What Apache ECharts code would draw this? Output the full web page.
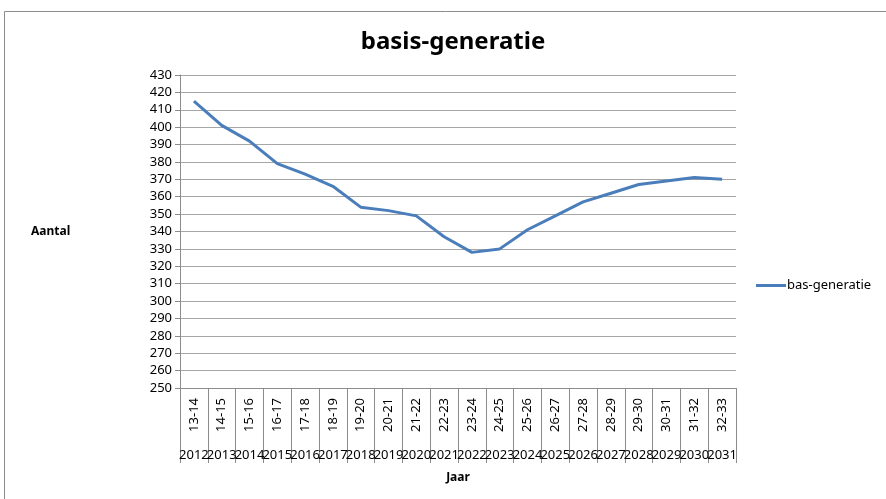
<!DOCTYPE html>
<html>
<head>
<meta charset="utf-8">
<script src="https://cdn.jsdelivr.net/npm/echarts@6/dist/echarts.min.js"></script>
<style>
  html, body { margin: 0; padding: 0; background: #fff; }
  #chart { width: 886px; height: 499px; }
</style>
</head>
<body>
<div id="chart"></div>
<script>
// schooljaren (as 1) en jaren (as 2)
const schoolYears = ["13-14", "14-15", "15-16", "16-17", "17-18", "18-19", "19-20", "20-21", "21-22", "22-23",
  "23-24", "24-25", "25-26", "26-27", "27-28", "28-29", "29-30", "30-31", "31-32", "32-33"];
const years = ["2012", "2013", "2014", "2015", "2016", "2017", "2018", "2019", "2020", "2021",
  "2022", "2023", "2024", "2025", "2026", "2027", "2028", "2029", "2030", "2031"];
// aantallen
const basGeneratie = [415, 401, 392, 379, 373, 366, 354, 352, 349, 337,
  328, 330, 341, 349, 357, 362, 367, 369, 371, 370];

const chart = echarts.init(document.getElementById("chart"));
const font = "'Noto Sans', sans-serif";

const option = {
  animation: false,
  textStyle: { fontFamily: font },
  title: {
    text: "basis-generatie",
    left: 448,
    top: 25,
    textAlign: "center",
    textStyle: { fontSize: 24, fontWeight: "bold", color: "#000", fontFamily: font }
  },
  legend: {
    left: 751,
    top: 274,
    itemWidth: 30,
    itemHeight: 3,
    itemGap: 2,
    icon: "rect",
    textStyle: { fontSize: 13, color: "#000", padding: [0, 0, 0, -4] },
    data: ["bas-generatie"]
  },
  graphic: [
    {
      type: "rect",
      shape: { x: 4.5, y: 11.5, width: 900, height: 500 },
      style: { fill: "none", stroke: "#8c8c8c", lineWidth: 1 }
    },
    {
      type: "text",
      left: 31,
      top: 226,
      style: { text: "Aantal", font: "bold 12px " + font, fill: "#000" }
    }
  ],
  grid: { left: 180, right: 150, top: 75, bottom: 111 },
  xAxis: [
    {
      type: "category",
      data: schoolYears,
      boundaryGap: true,
      name: "Jaar",
      nameLocation: "middle",
      nameGap: 84,
      nameTextStyle: { fontSize: 12, fontWeight: "bold", color: "#000" },
      axisLine: { lineStyle: { color: "#8c8c8c" } },
      axisTick: { show: true, length: 75, alignWithLabel: false, lineStyle: { color: "#8c8c8c" } },
      axisLabel: { rotate: 90, interval: 0, margin: 10, fontSize: 13, color: "#000" }
    },
    {
      type: "category",
      data: years,
      position: "bottom",
      boundaryGap: true,
      axisLine: { show: false },
      axisTick: { show: false },
      axisLabel: { interval: 0, margin: 61, fontSize: 13, color: "#000" }
    }
  ],
  yAxis: {
    type: "value",
    min: 250,
    max: 430,
    interval: 10,
    axisLine: { show: true, lineStyle: { color: "#8c8c8c" } },
    axisTick: { show: true, length: 5, lineStyle: { color: "#8c8c8c" } },
    axisLabel: { fontSize: 13, color: "#000", margin: 8 },
    splitLine: { lineStyle: { color: "#a6a6a6" } }
  },
  series: [
    {
      name: "bas-generatie",
      type: "line",
      xAxisIndex: 0,
      data: basGeneratie,
      symbol: "none",
      lineStyle: { width: 3, color: "#4a7ebb" },
      itemStyle: { color: "#4a7ebb" }
    }
  ]
};

chart.setOption(option);
</script>
</body>
</html>
